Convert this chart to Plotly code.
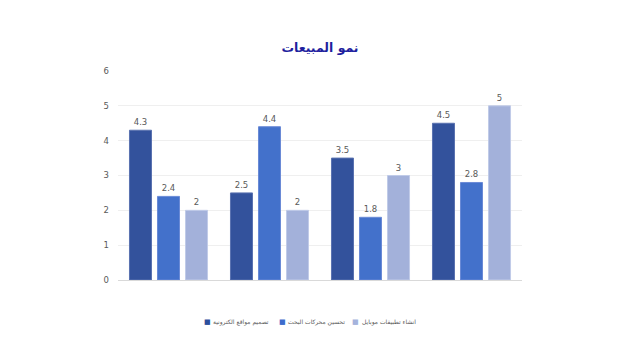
import plotly.graph_objects as go

categories = ["A", "B", "C", "D"]
series_names = ["تصميم مواقع الكترونية", "تحسين محركات البحث", "انشاء تطبيقات موبايل"]
web_design = [4.3, 2.5, 3.5, 4.5]
seo = [2.4, 4.4, 1.8, 2.8]
mobile_apps = [2, 2, 3, 5]
colors = ["#33529c", "#4371cb", "#a3b1da"]
line_colors = ["#5a72b0", "#6a8ad6", "#c0cbe8"]
legend_colors = ["#2d4f9c", "#3d6ccc", "#a5b3dc"]
legend_x = [0.2203, 0.406, 0.589]

fig = go.Figure()
for name, vals, c, lc in zip(series_names, [web_design, seo, mobile_apps], colors, line_colors):
    fig.add_trace(go.Bar(
        x=categories, y=vals, name=name, showlegend=False,
        marker=dict(color=c, line=dict(color=lc, width=1)),
        text=[str(v) for v in vals], textposition="outside",
        textfont=dict(size=8.5, color="#595959"),
        cliponaxis=False,
    ))

# custom legend (symbol left of text)
for name, c, lx in zip(series_names, legend_colors, legend_x):
    fig.add_annotation(xref="paper", yref="paper", x=lx, y=-0.203, text="■",
                       showarrow=False, xanchor="center", yanchor="middle",
                       font=dict(size=7, color=c, family="DejaVu Sans"))
    fig.add_annotation(xref="paper", yref="paper", x=lx + 0.009, y=-0.201, text=name,
                       showarrow=False, xanchor="left", yanchor="middle",
                       font=dict(size=6, color="#595959", family="DejaVu Sans"))

fig.update_layout(
    width=620, height=351,
    margin=dict(l=118, r=98, t=71, b=71),
    paper_bgcolor="white", plot_bgcolor="white",
    font=dict(family="DejaVu Sans, Arial", color="#595959", size=9),
    title=dict(text="<b>نمو المبيعات</b>", x=0.5, xref="paper", xanchor="center",
               y=0.865, yanchor="middle",
               font=dict(size=12.5, color="#1f1f9e", family="DejaVu Sans")),
    barmode="group", bargap=0.168, bargroupgap=0.214,
    showlegend=False,
)
fig.update_xaxes(showticklabels=False, showgrid=False, zeroline=False, showline=False, ticks="")
fig.update_yaxes(range=[0, 6], dtick=1, showgrid=True, gridcolor="#efefef", gridwidth=1,
                 zeroline=True, zerolinecolor="#d9d9d9", zerolinewidth=1,
                 tickfont=dict(size=8.5, color="#595959"), ticks="", ticklabelstandoff=8)
fig.write_html("out.html")
